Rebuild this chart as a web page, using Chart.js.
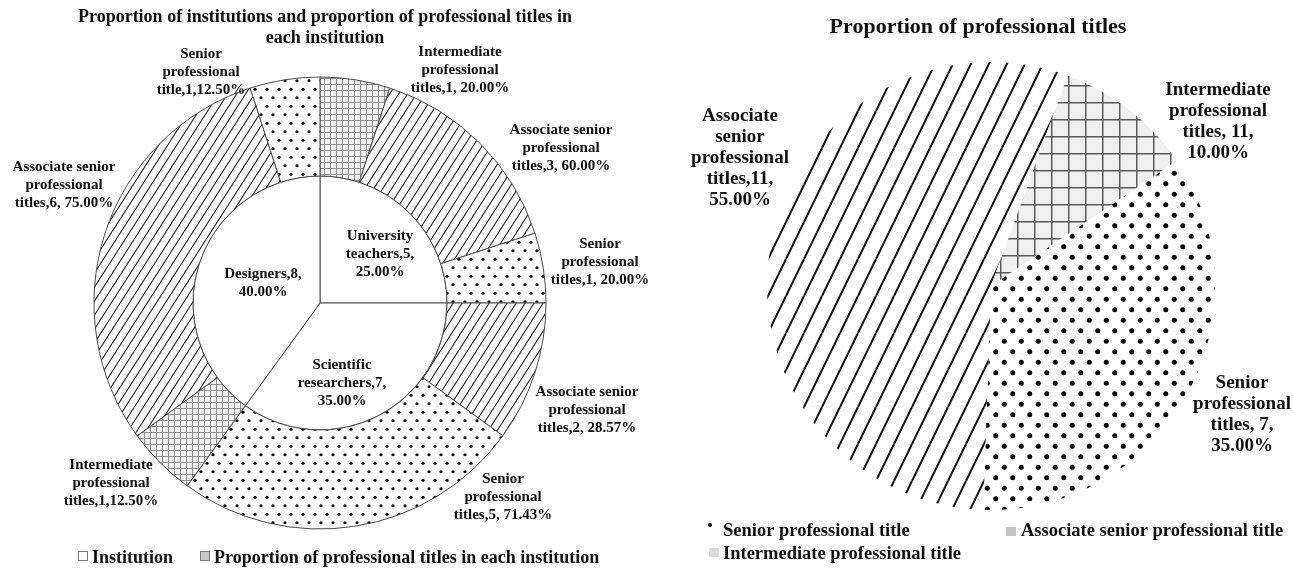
<!DOCTYPE html>
<html>
<head>
<meta charset="utf-8">
<script src="https://cdn.jsdelivr.net/npm/chart.js@4.4.1/dist/chart.umd.min.js"></script>
<style>
  html, body { margin: 0; padding: 0; background: #fff; }
  #wrap { position: relative; width: 1293px; height: 569px; overflow: hidden; }
  #left { position: absolute; left: 0; top: 0; }
  #right { position: absolute; left: 660px; top: 0; }
</style>
</head>
<body>
<div id="wrap">
  <canvas id="left" width="660" height="569"></canvas>
  <canvas id="right" width="633" height="569"></canvas>
</div>
<script>
// inner pie: institutions
const institutions = ['University teachers', 'Scientific researchers', 'Designers'];
const institutionCounts = [5, 7, 8];

// outer ring: titles within each institution, clockwise from 12 o'clock
const ringTitles = ['Intermediate', 'Associate senior', 'Senior', 'Associate senior', 'Senior', 'Intermediate', 'Associate senior', 'Senior'];
const ringInstitution = [0, 0, 0, 1, 1, 2, 2, 2];
const ringCounts = [1, 3, 1, 2, 5, 1, 6, 1];

// right pie: share of each title overall
const titleCategories = ['Senior professional title', 'Associate senior professional title', 'Intermediate professional title'];
const titleShares = [35, 55, 10];
const titleCountLabels = ['7', '11', '11'];

// label text pieces
const instNameLines = [['University', 'teachers'], ['Scientific', 'researchers'], ['Designers']];
const ringWord = ['titles', 'titles', 'titles', 'titles', 'titles', 'titles', 'titles', 'title'];
const ringSep = [' ', ' ', ' ', ' ', ' ', '', ' ', ''];
const pieNameLines = [['Senior', 'professional'], ['Associate', 'senior', 'professional'], ['Intermediate', 'professional']];
const pieSep = [' ', '', ' '];

// label placement, px from the ring centre
const ringLabelOffset = [[140, -233], [241, -155], [280, -41], [267, 107], [183, 194], [-209, 180], [-256, -118], [-119, -231]];
const instLabelOffset = [[60, -49], [22, 80], [-57, -20]];
const pieLabelOffset = [[251, 129], [-251, -128], [227, -164]];

const SERIF = '"Liberation Serif", "Times New Roman", serif';

function tile(w, h, draw) {
  const c = document.createElement('canvas');
  c.width = w; c.height = h;
  const g = c.getContext('2d');
  draw(g, w, h);
  return c;
}
function hatch(ctx, step, rise, lw, color) {
  return ctx.createPattern(tile(step, rise, (g, w, h) => {
    g.fillStyle = '#fff'; g.fillRect(0, 0, w, h);
    g.strokeStyle = color; g.lineWidth = lw;
    g.beginPath();
    for (let k = -1; k <= 1; k++) { g.moveTo(k * w, h); g.lineTo((k + 1) * w, 0); }
    g.stroke();
  }), 'repeat');
}
function dots(ctx, w, h, r) {
  return ctx.createPattern(tile(w, h, (g) => {
    g.fillStyle = '#fff'; g.fillRect(0, 0, w, h);
    g.fillStyle = '#000';
    [[w / 4, h / 4], [3 * w / 4, 3 * h / 4]].forEach(([x, y]) => {
      g.beginPath(); g.arc(x, y, r, 0, Math.PI * 2); g.fill();
    });
  }), 'repeat');
}
function grid(ctx, step, lw, line, bg) {
  return ctx.createPattern(tile(step, step, (g, w, h) => {
    g.fillStyle = bg; g.fillRect(0, 0, w, h);
    g.strokeStyle = line; g.lineWidth = lw;
    g.beginPath();
    g.moveTo(lw / 2, 0); g.lineTo(lw / 2, h);
    g.moveTo(0, lw / 2); g.lineTo(w, lw / 2);
    g.stroke();
  }), 'repeat');
}

function drawLines(ctx, lines, x, y, lh) {
  const top = y - (lines.length - 1) * lh / 2;
  lines.forEach((s, i) => ctx.fillText(s, x, top + i * lh));
}

// ---------- left: institutions and titles in each ----------
const lctx = document.getElementById('left').getContext('2d');
const lFill = {
  'Intermediate': grid(lctx, 6, 1, '#8e8e8e', '#f2f2f2'),
  'Associate senior': hatch(lctx, 9, 14, 1.1, '#1e1e1e'),
  'Senior': dots(lctx, 12, 17, 1.6)
};

const ringLabels = ringCounts.map((n, i) => {
  const pct = (n / institutionCounts[ringInstitution[i]] * 100).toFixed(2);
  return [ringTitles[i], 'professional', ringWord[i] + ',' + n + ',' + ringSep[i] + pct + '%'];
});
const instTotal = institutionCounts.reduce((a, b) => a + b, 0);
const instLabels = institutionCounts.map((n, i) => {
  const lines = instNameLines[i].slice();
  lines[lines.length - 1] += ',' + n + ',';
  return lines.concat([(n / instTotal * 100).toFixed(2) + '%']);
});

const leftDeco = {
  id: 'leftDeco',
  afterDraw(chart) {
    const ctx = chart.ctx;
    const ring = chart.getDatasetMeta(0).data;
    const inner = chart.getDatasetMeta(1).data;
    ctx.save();
    ctx.fillStyle = '#111';
    ctx.textAlign = 'center';
    ctx.textBaseline = 'middle';
    ctx.font = 'bold 15px ' + SERIF;
    ring.forEach((arc, i) => {
      drawLines(ctx, ringLabels[i], arc.x + ringLabelOffset[i][0], arc.y + ringLabelOffset[i][1], 18);
    });
    inner.forEach((arc, i) => {
      drawLines(ctx, instLabels[i], arc.x + instLabelOffset[i][0], arc.y + instLabelOffset[i][1], 18);
    });

    ctx.font = 'bold 18px ' + SERIF;
    ctx.fillText('Proportion of institutions and proportion of professional titles in', 325, 17);
    ctx.fillText('each institution', 325, 38);

    // legend
    ctx.textAlign = 'left';
    ctx.strokeStyle = '#777';
    ctx.lineWidth = 1;
    ctx.fillStyle = '#fff';
    ctx.fillRect(78.5, 551.5, 9, 9); ctx.strokeRect(78.5, 551.5, 9, 9);
    ctx.fillStyle = '#c8c8c8';
    ctx.fillRect(200.5, 551.5, 9, 9); ctx.strokeRect(200.5, 551.5, 9, 9);
    ctx.fillStyle = '#111';
    ctx.fillText('Institution', 92, 558);
    ctx.fillText('Proportion of professional titles in each institution', 214, 558);
    ctx.restore();
  }
};

new Chart(lctx, {
  type: 'doughnut',
  data: {
    labels: ringTitles,
    datasets: [
      {
        label: 'Proportion of professional titles in each institution',
        data: ringCounts,
        backgroundColor: ringTitles.map(t => lFill[t]),
        borderColor: '#4a4a4a',
        borderWidth: 1,
        weight: 99
      },
      {
        label: 'Institution',
        data: institutionCounts,
        backgroundColor: '#fff',
        borderColor: '#4a4a4a',
        borderWidth: 1,
        weight: 127
      }
    ]
  },
  options: {
    responsive: false,
    animation: false,
    events: [],
    cutout: 0,
    radius: 226,
    layout: { padding: { left: 60, right: 80, top: 60, bottom: 23 } },
    plugins: { legend: { display: false }, tooltip: { enabled: false } }
  },
  plugins: [leftDeco]
});

// ---------- right: overall title shares ----------
const rctx = document.getElementById('right').getContext('2d');
const rFill = [
  dots(rctx, 17, 21, 2.5),
  hatch(rctx, 18, 37, 2, '#111'),
  grid(rctx, 17, 1.5, '#5a5a5a', '#f0f0f0')
];

const pieLabels = titleShares.map((s, i) => pieNameLines[i].concat([
  'titles,' + pieSep[i] + titleCountLabels[i] + ',',
  s.toFixed(2) + '%'
]));

const rightDeco = {
  id: 'rightDeco',
  afterDraw(chart) {
    const ctx = chart.ctx;
    const arcs = chart.getDatasetMeta(0).data;
    ctx.save();
    ctx.fillStyle = '#111';
    ctx.textAlign = 'center';
    ctx.textBaseline = 'middle';
    ctx.font = 'bold 19px ' + SERIF;
    arcs.forEach((arc, i) => {
      drawLines(ctx, pieLabels[i], arc.x + pieLabelOffset[i][0], arc.y + pieLabelOffset[i][1], 21);
    });

    ctx.font = 'bold 22px ' + SERIF;
    ctx.fillText('Proportion of professional titles', 318, 27);

    // legend
    ctx.font = 'bold 18.5px ' + SERIF;
    ctx.textAlign = 'left';
    ctx.fillStyle = '#000';
    ctx.beginPath(); ctx.arc(50, 525, 2, 0, Math.PI * 2); ctx.fill();
    ctx.fillStyle = '#c4c4c4'; ctx.fillRect(346, 527, 10, 9);
    ctx.fillStyle = '#dcdcdc'; ctx.fillRect(49, 548, 10, 9);
    ctx.fillStyle = '#111';
    ctx.fillText(titleCategories[0], 63, 531);
    ctx.fillText(titleCategories[1], 361, 531);
    ctx.fillText(titleCategories[2], 63, 554);
    ctx.restore();
  }
};

new Chart(rctx, {
  type: 'pie',
  data: {
    labels: titleCategories,
    datasets: [{
      data: titleShares,
      backgroundColor: rFill,
      borderWidth: 0
    }]
  },
  options: {
    responsive: false,
    animation: false,
    events: [],
    rotation: 56,
    radius: 224,
    layout: { padding: { left: 60, right: 31, top: 40, bottom: 37 } },
    plugins: { legend: { display: false }, tooltip: { enabled: false } }
  },
  plugins: [rightDeco]
});
</script>
</body>
</html>
